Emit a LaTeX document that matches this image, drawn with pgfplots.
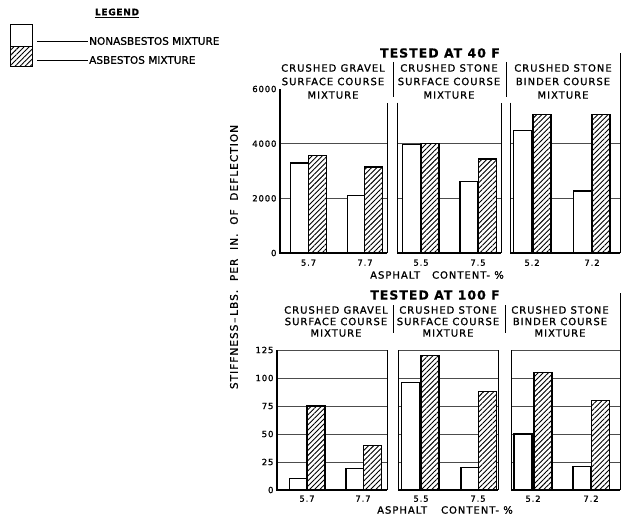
\documentclass[border=0pt]{standalone}
\usepackage{fontspec}
\setmainfont{DejaVu Sans}[FakeBold=1.1]
\newfontfamily\spaced[LetterSpace=10,FakeBold=1.1]{DejaVu Sans}
\newfontfamily\spacedb[LetterSpace=8,FakeBold=0.5]{DejaVu Sans Bold}
\usepackage{pgfplots}
\pgfplotsset{compat=1.18}
\usetikzlibrary{patterns.meta}
\tikzset{hatch/.style={preaction={fill=white},pattern={Lines[angle=45,distance=3.6pt,line width=0.9pt]}}}
\pgfplotsset{
  panel/.style={scale only axis, clip=false, axis line style={draw=none},
    major tick length=0pt, ymin=0, xmin=0,
    tick label style={font=\fontsize{8.5}{9}\spaced},
    xticklabel style={yshift=-3pt},
    grid style={line width=0.8pt, black!70}, ymajorgrids,
    anchor=south west},
  wbar/.style={ybar, bar width=18, bar shift=0pt, draw=black, line width=1.2pt, fill=white},
  hbar/.style={ybar, bar width=18, bar shift=0pt, draw=black, line width=1.2pt, hatch},
}
\begin{document}
\begin{tikzpicture}[x=1pt,y=1pt]
\path[use as bounding box] (0,0) rectangle (627,-519);
% legend
\node[font=\fontsize{9}{10}\spacedb] at (117,-13) {\underline{LEGEND}};
\draw[line width=1pt, fill=white] (10,-25) rectangle (32,-47);
\draw[line width=1pt, hatch] (10,-47) rectangle (32,-67);
\draw[line width=0.9pt] (37,-41) -- (88,-41);
\draw[line width=0.9pt] (37,-60) -- (88,-60);
\node[anchor=west, inner sep=1pt, font=\fontsize{10.5}{12}\selectfont] at (88,-41) {NONASBESTOS MIXTURE};
\node[anchor=west, inner sep=1pt, font=\fontsize{10.5}{12}\selectfont] at (88,-60) {ASBESTOS MIXTURE};
% y label
\node[rotate=90, font=\fontsize{10.5}{11}\spaced] at (234,-257) {STIFFNESS\,–\,LBS.\ \ PER\ \ IN.\ \ OF\ \ DEFLECTION};
% ===== TOP: 40 F =====
\node[font=\fontsize{12.5}{14}\spacedb] at (440,-53) {TESTED AT 40 F};
\begin{scope}[font=\fontsize{10}{13.5}\spaced]
\node[align=center] at (333,-81.5) {CRUSHED GRAVEL\\SURFACE COURSE\\MIXTURE};
\node[align=center] at (449,-81.5) {CRUSHED STONE\\SURFACE COURSE\\MIXTURE};
\node[align=center] at (563,-81.5) {CRUSHED STONE\\BINDER COURSE\\MIXTURE};
\end{scope}
\draw[line width=0.9pt] (393,-62) -- (393,-97);
\draw[line width=0.9pt] (506,-62) -- (506,-97);
\node[font=\fontsize{10}{12}\spaced] at (437,-275) {ASPHALT\hspace{12pt}CONTENT- \%};

\begin{axis}[panel, at={(280pt,-253pt)}, width=107pt, height=164pt, xmax=107, ymax=6000,
  ytick={2000,4000}, yticklabels={2000,4000}, extra y ticks={0,6000}, extra y tick labels={0,6000},
  extra y tick style={grid=none}, xtick={28.5,85}, xticklabels={5.7,7.7}]
\addplot[wbar] coordinates {(19.5,3290) (76.5,2100)};
\addplot[hbar] coordinates {(37.5,3570) (93.5,3150)};
\draw[line width=1.6pt] (axis cs:0,6000) -- (axis cs:0,0) -- (axis cs:107,0);
\draw[line width=1pt] (axis cs:107,0) -- (axis cs:107,5500);
\end{axis}
\begin{axis}[panel, at={(397pt,-253pt)}, width=104pt, height=164pt, xmax=104, ymax=6000,
  ytick={2000,4000}, yticklabels={}, xtick={24,81}, xticklabels={5.5,7.5}]
\addplot[wbar] coordinates {(14.5,3980) (72,2610)};
\addplot[hbar] coordinates {(33,4000) (90.5,3440)};
\draw[line width=1.6pt] (axis cs:0,0) -- (axis cs:104,0);
\draw[line width=1pt] (axis cs:0,5500) -- (axis cs:0,0);
\draw[line width=1pt] (axis cs:104,0) -- (axis cs:104,5500);
\end{axis}
\begin{axis}[panel, at={(510pt,-253pt)}, width=110pt, height=164pt, xmax=110, ymax=6000,
  ytick={2000,4000}, yticklabels={}, xtick={22,82}, xticklabels={5.2,7.2}]
\addplot[wbar] coordinates {(12.5,4490) (72.5,2270)};
\addplot[hbar] coordinates {(32,5070) (91,5070)};
\draw[line width=1.6pt] (axis cs:0,0) -- (axis cs:110,0);
\draw[line width=1pt] (axis cs:0,5500) -- (axis cs:0,0);
\draw[line width=1pt] (axis cs:110,0) -- (axis cs:110,7317);
\end{axis}

% ===== BOTTOM: 100 F =====
\node[font=\fontsize{12.5}{14}\spacedb] at (435,-295) {TESTED AT 100 F};
\begin{scope}[font=\fontsize{10}{11.5}\spaced]
\node[align=center] at (336,-321.5) {CRUSHED GRAVEL\\SURFACE COURSE\\MIXTURE};
\node[align=center] at (448,-321.5) {CRUSHED STONE\\SURFACE COURSE\\MIXTURE};
\node[align=center] at (560,-321.5) {CRUSHED STONE\\BINDER COURSE\\MIXTURE};
\end{scope}
\draw[line width=0.9pt] (393,-305) -- (393,-333);
\draw[line width=0.9pt] (505,-305) -- (505,-333);
\node[font=\fontsize{10}{12}\spaced] at (445,-510) {ASPHALT\hspace{14pt}CONTENT- \%};

\begin{axis}[panel, at={(277pt,-490pt)}, width=110pt, height=140pt, xmax=110, ymax=125,
  ytick={0,25,50,75,100,125}, yticklabels={0,25,50,75,100,125}, xtick={30,86}, xticklabels={5.7,7.7},
  xticklabel style={yshift=1pt}]
\addplot[wbar] coordinates {(21.5,10) (78,19)};
\addplot[hbar] coordinates {(39,75) (95.5,40)};
\draw[line width=1.6pt] (axis cs:0,125) -- (axis cs:0,0) -- (axis cs:110,0);
\draw[line width=1pt] (axis cs:110,0) -- (axis cs:110,125);
\end{axis}
\begin{axis}[panel, at={(398pt,-490pt)}, width=100pt, height=140pt, xmax=100, ymax=125,
  ytick={0,25,50,75,100,125}, yticklabels={}, xtick={23,80}, xticklabels={5.5,7.5},
  xticklabel style={yshift=1pt}]
\addplot[wbar] coordinates {(12.5,96) (72,20)};
\addplot[hbar] coordinates {(32,120) (89.5,88)};
\draw[line width=1.6pt] (axis cs:0,0) -- (axis cs:100,0);
\draw[line width=1pt] (axis cs:0,125) -- (axis cs:0,0);
\draw[line width=1pt] (axis cs:100,0) -- (axis cs:100,125);
\end{axis}
\begin{axis}[panel, at={(511pt,-490pt)}, width=109pt, height=140pt, xmax=109, ymax=125,
  ytick={0,25,50,75,100,125}, yticklabels={}, xtick={22,80}, xticklabels={5.2,7.2},
  xticklabel style={yshift=1pt}]
\addplot[wbar] coordinates {(12,50) (71,21)};
\addplot[hbar] coordinates {(32,105) (89.5,80)};
\draw[line width=1.6pt] (axis cs:0,0) -- (axis cs:109,0);
\draw[line width=1pt] (axis cs:0,125) -- (axis cs:0,0);
\draw[line width=1pt] (axis cs:109,0) -- (axis cs:109,176);
\end{axis}
\end{tikzpicture}
\end{document}
